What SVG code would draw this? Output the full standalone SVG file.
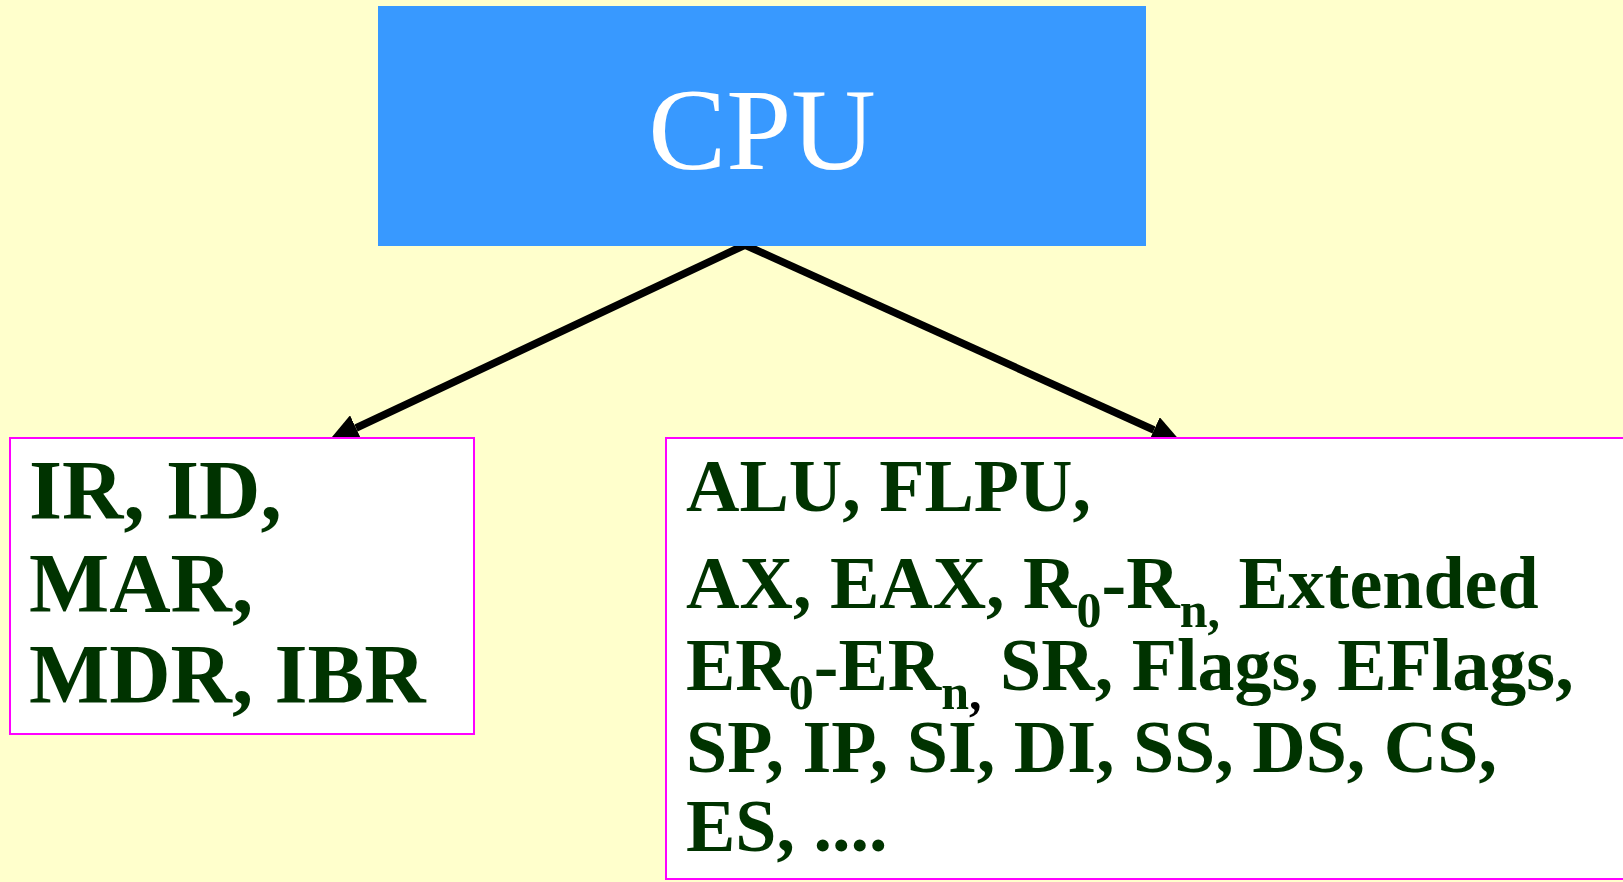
<svg xmlns="http://www.w3.org/2000/svg" width="1623" height="882" viewBox="0 0 1623 882">
<style>
.bg{fill:#FFFFCC}
.cpu{fill:#3899FF}
.box{fill:#FFFFFF;stroke:#FF00FF;stroke-width:2}
.conn{stroke:#000;stroke-width:7.5;fill:none}
.t{font-family:"Liberation Serif","Times New Roman",serif;font-weight:bold;fill:#003300}
.cpuT{font-family:"Liberation Serif","Times New Roman",serif;fill:#FFFFFF;font-size:117px}
</style>
<defs>
<marker id="ah" markerUnits="userSpaceOnUse" markerWidth="30" markerHeight="28" refX="0" refY="14" orient="auto" viewBox="0 0 30 28">
<path d="M0,0 L30,14 L0,28 z" fill="#000"/>
</marker>
</defs>
<rect class="bg" x="0" y="0" width="1623" height="882"/>
<g id="connectors">
<line class="conn" x1="745" y1="245" x2="356" y2="428" marker-end="url(#ah)"/>
<line class="conn" x1="745" y1="245" x2="1154" y2="430" marker-end="url(#ah)"/>
</g>
<g id="cpu">
<rect class="cpu" x="378" y="6" width="768" height="240"/>
<text class="cpuT" x="762" y="169" text-anchor="middle">CPU</text>
</g>
<g id="control">
<rect class="box" x="10" y="438" width="464" height="296"/>
<text class="t" font-size="85" x="29" y="519">IR, ID,</text>
<text class="t" font-size="85" x="29" y="612">MAR,</text>
<text class="t" font-size="85" x="29" y="703">MDR, IBR</text>
</g>
<g id="execution">
<rect class="box" x="666" y="438" width="960" height="441"/>
<text class="t" font-size="74" x="686" y="511">ALU, FLPU,</text>
<text class="t" font-size="74" x="686" y="608">AX, EAX, R<tspan font-size="50" dy="19">0</tspan><tspan dy="-19">-R</tspan><tspan font-size="50" dy="19">n,</tspan><tspan dy="-19"> Extended</tspan></text>
<text class="t" font-size="74" x="686" y="690">ER<tspan font-size="50" dy="19">0</tspan><tspan dy="-19">-ER</tspan><tspan font-size="50" dy="19">n</tspan><tspan font-size="50" fill="#000000">,</tspan><tspan dy="-19"> SR, Flags, EFlags,</tspan></text>
<text class="t" font-size="74" x="686" y="772">SP, IP, SI, DI, SS, DS, CS,</text>
<text class="t" font-size="74" x="686" y="851">ES, ....</text>
</g>
</svg>
